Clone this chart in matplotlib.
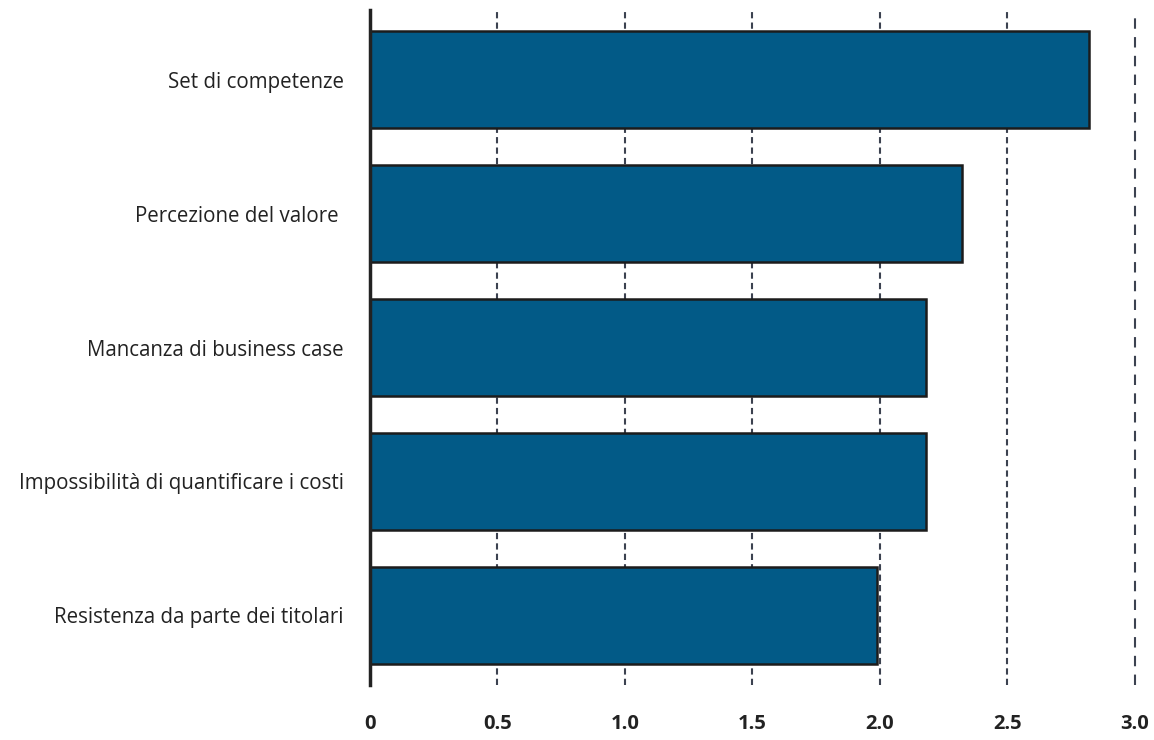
import matplotlib.pyplot as plt

plt.rcParams['font.family'] = ['Open Sans', 'DejaVu Sans']

categories = ["Set di competenze", "Percezione del valore ", "Mancanza di business case",
              "Impossibilità di quantificare i costi", "Resistenza da parte dei titolari"]
values = [2.82, 2.32, 2.18, 2.18, 1.99]
xticks = [0, 0.5, 1.0, 1.5, 2.0, 2.5, 3.0]
xtick_labels = ["0", "0.5", "1.0", "1.5", "2.0", "2.5", "3.0"]


def main():
    fig = plt.figure(figsize=(11.54, 7.4), dpi=100)
    ax = fig.add_axes([0.3206, 0.0743, 0.6629, 0.9122])

    ypos = list(range(len(categories)))
    ax.barh(ypos, values, height=0.72, color="#025a87",
            edgecolor="#1c1c1c", linewidth=1.8, zorder=3)

    ax.set_xlim(0, 3.0)
    ax.set_ylim(len(categories) - 0.48, -0.52)

    # dashed grid
    ax.set_xticks(xticks)
    ax.set_xticklabels(xtick_labels, fontsize=14.5, fontweight='bold', color="#222222")
    ax.xaxis.grid(True, linestyle=(0, (3, 2)), color="#3c4250", linewidth=1.5, zorder=0)
    last = ax.get_xgridlines()[-1]
    last.set_linestyle((0, (5, 4)))
    last.set_clip_on(False)
    ax.set_axisbelow(True)

    ax.set_yticks(ypos)
    ax.set_yticklabels(categories, fontsize=14.8, color="#222222")

    ax.tick_params(axis='x', length=0, pad=21)
    ax.tick_params(axis='y', length=0, pad=19)

    for s in ["top", "right", "bottom"]:
        ax.spines[s].set_visible(False)
    ax.spines["left"].set_color("#222222")
    ax.spines["left"].set_linewidth(2.5)
    ax.spines["left"].set_zorder(4)

    plt.savefig("out.png", dpi=100)


if __name__ == "__main__":
    main()
